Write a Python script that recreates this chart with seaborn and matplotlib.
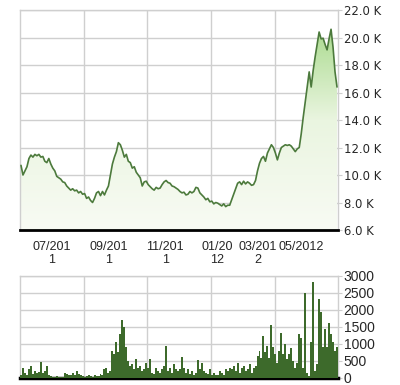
import numpy as np
import pandas as pd
import matplotlib
matplotlib.use("Agg")
import matplotlib.pyplot as plt
from matplotlib import font_manager
from matplotlib.colors import LinearSegmentedColormap
import seaborn as sns

# ---------------- data ----------------
price_k = [
    10.7, 10.0, 10.3, 10.6, 11.2, 11.45, 11.3, 11.5, 11.4, 11.5,
    11.3, 11.35, 11.0, 10.9, 11.2, 10.8, 10.5, 10.3, 9.9, 9.8,
    9.7, 9.5, 9.45, 9.2, 9.05, 8.9, 9.0, 8.85, 8.9, 8.7,
    8.8, 8.6, 8.65, 8.3, 8.4, 8.15, 8.0, 8.3, 8.7, 8.8,
    8.5, 8.8, 8.55, 8.9, 9.2, 10.0, 10.8, 11.3, 11.7, 12.35,
    12.2, 11.8, 11.3, 11.5, 11.0, 10.9, 10.5, 10.6, 10.2, 10.0,
    9.8, 9.2, 9.5, 9.55, 9.3, 9.15, 9.0, 8.9, 9.1, 9.0,
    9.05, 9.3, 9.5, 9.6, 9.45, 9.4, 9.2, 9.15, 9.05, 8.95,
    8.8, 8.7, 8.75, 8.55, 8.6, 8.8, 8.7, 8.8, 9.1, 9.05,
    8.7, 8.55, 8.4, 8.2, 8.3, 8.05, 8.1, 7.9, 8.0, 7.95,
    7.85, 7.75, 7.9, 7.7, 7.8, 7.8, 8.2, 8.6, 9.0, 9.4,
    9.5, 9.3, 9.55, 9.35, 9.5, 9.4, 9.25, 9.3, 9.6, 10.3,
    10.85, 11.2, 11.35, 11.0, 11.6, 11.9, 12.2, 12.0, 11.6, 11.1,
    11.6, 12.0, 12.1, 12.2, 12.15, 12.2, 12.1, 11.9, 11.7, 11.9,
    12.0, 13.0, 14.2, 15.3, 16.4, 17.5, 16.4, 17.6, 18.6, 19.5,
    20.4, 19.9, 19.95, 19.5, 19.1, 19.9, 20.6, 19.3, 17.5, 16.4,
]

volume = [
    100, 300, 150, 80, 250, 350, 120, 200, 150, 180,
    480, 150, 200, 350, 100, 60, 40, 30, 50, 40,
    30, 40, 150, 120, 100, 80, 150, 100, 200, 120,
    80, 60, 40, 50, 80, 60, 40, 80, 60, 50,
    120, 100, 250, 300, 150, 200, 780, 700, 1050, 750,
    1300, 1700, 1500, 900, 500, 350, 400, 250, 550, 300,
    350, 200, 250, 450, 300, 550, 150, 120, 300, 200,
    150, 250, 350, 950, 200, 300, 150, 400, 250, 200,
    250, 620, 300, 150, 250, 120, 200, 100, 150, 540,
    250, 450, 200, 150, 120, 250, 100, 150, 100, 80,
    200, 150, 100, 250, 200, 300, 250, 350, 200, 450,
    150, 300, 350, 200, 250, 400, 150, 300, 350, 650,
    800, 600, 1230, 750, 950, 600, 1560, 900, 700, 450,
    800, 1330, 700, 1000, 550, 700, 880, 500, 300, 450,
    1290, 1170, 300, 2510, 150, 50, 1050, 2830, 200, 400,
    2320, 1950, 900, 1450, 900, 1630, 1300, 1070, 800, 900,
]

price_ticks = [6, 8, 10, 12, 14, 16, 18, 20, 22]
price_tick_labels = ["6.0 K", "8.0 K", "10.0 K", "12.0 K", "14.0 K",
                     "16.0 K", "18.0 K", "20.0 K", "22.0 K"]
vol_ticks = [0, 500, 1000, 1500, 2000, 2500, 3000]
vol_tick_labels = ["0", "500", "1000", "1500", "2000", "2500", "3000"]
date_labels = ["07/201\n1", "09/201\n1", "11/201\n1", "01/20\n12", "03/201\n2", "05/2012"]

n = len(price_k)
assert len(volume) == n
day = np.arange(n)
df = pd.DataFrame({"day": day, "price": price_k, "volume": volume})

# ---------------- style ----------------
sns.set_style("white")
plt.rcParams["font.family"] = ["Liberation Sans", "DejaVu Sans"]

try:
    font_manager.findfont("Liberation Sans Narrow", fallback_to_default=False)
    XFONT, XSIZE = "Liberation Sans Narrow", 10.5
except Exception:
    XFONT, XSIZE = "Liberation Sans", 9.0

LINE = "#4c7a3c"
BAR = "#3d6a2b"
GRID = "#cfcfcf"

date_pos = [15.6, 44.3, 72.5, 98.5, 119.0, 140.9]
vgrid_pos = [31.7, 63.4, 95.6, 127.8]
xlim = (-0.5, n - 0.5)

fig = plt.figure(figsize=(4.0, 3.85), dpi=100)
ax1 = fig.add_axes([0.05, 0.4026, 0.795, 0.5714])
ax2 = fig.add_axes([0.05, 0.0182, 0.795, 0.265])

# ---- price panel ----
poly = ax1.fill_between(df["day"], df["price"], 6, color="none", linewidth=0)
grad = np.linspace(0, 1, 256).reshape(-1, 1)
cmap = LinearSegmentedColormap.from_list("g", ["#f8fbf4", "#eaf5e0", "#9fd680"])
im = ax1.imshow(grad, extent=[xlim[0], xlim[1], 6, 22], origin="lower",
                aspect="auto", cmap=cmap, zorder=1)
im.set_clip_path(poly.get_paths()[0], transform=ax1.transData)
sns.lineplot(data=df, x="day", y="price", ax=ax1, color=LINE, linewidth=1.2, zorder=3)

ax1.set_xlim(*xlim)
ax1.set_ylim(6, 22)
ax1.set_xlabel("")
ax1.set_ylabel("")
ax1.yaxis.tick_right()
ax1.set_yticks(price_ticks)
ax1.set_yticklabels(price_tick_labels, fontsize=8.4, family=["DejaVu Sans"])
ax1.set_xticks(date_pos)
ax1.set_xticklabels(date_labels, fontsize=XSIZE, linespacing=1.05,
                    family=[XFONT, "DejaVu Sans"])
ax1.set_xticks(vgrid_pos, minor=True)
ax1.tick_params(axis="x", which="both", length=0, pad=8)
ax1.tick_params(axis="y", length=3, width=0.8, color=GRID, pad=1)
ax1.grid(axis="y", which="major", color=GRID, linewidth=1.0, zorder=0)
ax1.grid(axis="x", which="minor", color=GRID, linewidth=1.0, zorder=0)
ax1.grid(axis="x", which="major", visible=False)
ax1.set_axisbelow(True)
for s in ["top", "left", "right"]:
    ax1.spines[s].set_color(GRID)
    ax1.spines[s].set_linewidth(1.0)
ax1.spines["bottom"].set_color("black")
ax1.spines["bottom"].set_linewidth(2.0)

# ---- volume panel ----
sns.barplot(data=df, x="day", y="volume", ax=ax2, native_scale=True,
            color=BAR, saturation=1, width=1.0, linewidth=0, zorder=3)
for p in ax2.patches:
    p.set_antialiased(False)
ax2.set_xlim(*xlim)
ax2.set_ylim(0, 3000)
ax2.set_xlabel("")
ax2.set_ylabel("")
ax2.yaxis.tick_right()
ax2.set_yticks(vol_ticks)
ax2.set_yticklabels(vol_tick_labels, fontsize=10)
ax2.set_xticks([])
ax2.set_xticks(vgrid_pos, minor=True)
ax2.tick_params(axis="x", which="both", length=0)
ax2.tick_params(axis="y", length=3, width=0.8, color=GRID, pad=1)
ax2.grid(axis="y", which="major", color=GRID, linewidth=1.0, zorder=0)
ax2.grid(axis="x", which="minor", color=GRID, linewidth=1.0, zorder=0)
ax2.set_axisbelow(True)
for s in ["top", "left", "right"]:
    ax2.spines[s].set_color(GRID)
    ax2.spines[s].set_linewidth(1.0)
ax2.spines["bottom"].set_color("black")
ax2.spines["bottom"].set_linewidth(2.5)

fig.savefig("out.png", dpi=100)
